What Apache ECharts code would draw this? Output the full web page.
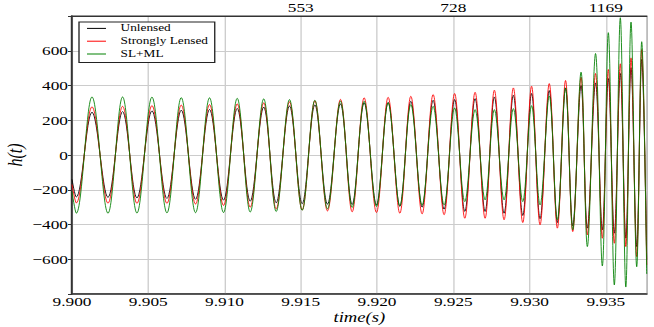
<!DOCTYPE html>
<html><head><meta charset="utf-8">
<script src="https://cdn.jsdelivr.net/npm/echarts@6/dist/echarts.min.js"></script>
<style>
html,body{margin:0;padding:0;background:#fff;}
#wrap{width:654px;height:327px;overflow:hidden;position:relative;}
#c{width:492px;height:327px;transform-origin:0 0;}
</style>
</head><body>
<div id="wrap"><div id="c"></div></div>
<script>
// time (s) of the start point and of each successive trough / peak
const times = [9.900000, 9.900282, 9.901311, 9.902359, 9.903316, 9.904259, 9.905242, 9.906225, 9.907163, 9.908100,
  9.909017, 9.909934, 9.910832, 9.911684, 9.912569, 9.913388, 9.914260, 9.915092, 9.915924, 9.916750,
  9.917602, 9.918368, 9.919155, 9.919961, 9.920727, 9.921494, 9.922215, 9.922955, 9.923676, 9.924397,
  9.925085, 9.925754, 9.926429, 9.927084, 9.927693, 9.928329, 9.928938, 9.929554, 9.930131, 9.930688,
  9.931291, 9.931822, 9.932359, 9.932831, 9.933375, 9.933788, 9.934325, 9.934771, 9.935164, 9.935557,
  9.935950, 9.936311, 9.936652, 9.937025, 9.937353, 9.937680];
const unlensed = [-140,
  -242, 246, -244, 250, -247, 254, -250, 258, -255, 262,
  -260, 268, -266, 276, -275, 282, -280, 288, -283, 294,
  -285, 300, -287, 303, -296, 309, -300, 315, -312, 319,
  -325, 325, -325, 334, -335, 344, -348, 354, -367, 371,
  -389, 386, -408, 400, -421, 415, -431, 440, -450, 469,
  -479, 502, -527, 550, -604];
const stronglyLensed = [-170,
  -276, 277, -277, 280, -278, 284, -278, 287, -282, 290,
  -290, 294, -300, 300, -310, 306, -316, 312, -322, 320,
  -327, 329, -331, 332, -335, 338, -339, 348, -344, 354,
  -364, 361, -364, 373, -373, 386, -389, 396, -402, 411,
  -421, 429, -441, 448, -460, 469, -479, 492, -508, 525,
  -527, 559, -585, 607, -633];
const slml = [-210,
  -335, 334, -335, 334, -334, 333, -333, 330, -332, 329,
  -331, 326, -328, 323, -325, 319, -318, 315, -310, 310,
  -302, 309, -296, 300, -292, 290, -288, 280, -287, 271,
  -268, 261, -258, 261, -258, 267, -268, 284, -287, 340,
  -373, 386, -431, 477, -527, 584, -639, 704, -748, 790,
  -760, 765, -643, 652, -685];
const seriesNames = ['Unlensed', 'Strongly Lensed', 'SL+ML'];
const topTickValues = [9.915, 9.925, 9.935];
const topTickLabels = ['553', '728', '1169'];
const xMin = 9.900, xMax = 9.93768, xStep = 0.005;
const yMin = -800, yMax = 800, yStep = 200;

// the reference figure is horizontally stretched; reproduce by a CSS stretch
const S = 654 / 492;
document.getElementById('c').style.transform = 'scaleX(' + S + ')';
const FF = 'Liberation Serif';

const chart = echarts.init(document.getElementById('c'), null, {renderer: 'svg'});
const toPairs = vals => times.map((t, i) => [t, vals[i]]);
const colors = ['#000000', '#ff0000', '#008000'];
const vals = [unlensed, stronglyLensed, slml];

chart.setOption({
  animation: false,
  backgroundColor: '#ffffff',
  grid: {left: 72 / S, right: 7.3 / S, top: 16, bottom: 33, show: true,
    containLabel: false, outerBoundsMode: 'none',
    borderColor: '#333', borderWidth: 1},
  legend: {
    orient: 'vertical', left: 79 / S, top: 22,
    icon: 'rect', itemWidth: 19 / S, itemHeight: 1, itemGap: 0,
    padding: [0, 5, 2, 6],
    borderColor: '#222', borderWidth: 1, backgroundColor: '#fff',
    textStyle: {fontFamily: FF, fontSize: 10, color: '#000', lineHeight: 12.8, padding: [0, 0, 0, 6]},
    data: seriesNames
  },
  xAxis: [{
    type: 'value', position: 'bottom', min: xMin, max: xMax, interval: xStep,
    axisLine: {show: true, onZero: false, lineStyle: {color: '#333', width: 1.5}},
    axisTick: {show: false},
    axisLabel: {showMaxLabel: false, formatter: v => v.toFixed(3), fontFamily: FF, fontSize: 13, color: '#000', margin: 1},
    splitLine: {show: true, lineStyle: {color: '#cccccc', width: 1}},
    name: 'time(s)', nameLocation: 'middle', nameGap: 16, nameMoveOverlap: false,
    nameTextStyle: {fontFamily: FF, fontStyle: 'italic', fontSize: 14, color: '#000'}
  }, {
    type: 'value', position: 'top', min: xMin, max: xMax, interval: xStep,
    axisLine: {show: true, onZero: false, lineStyle: {color: '#333', width: 1}},
    axisTick: {show: false},
    axisLabel: {showMaxLabel: false, fontFamily: FF, fontSize: 13, color: '#000', margin: 2,
      formatter: v => {
        const k = topTickValues.findIndex(x => Math.abs(x - v) < 1e-7);
        return k >= 0 ? topTickLabels[k] : '';
      }},
    splitLine: {show: false}
  }],
  yAxis: {
    type: 'value', min: yMin, max: yMax, interval: yStep,
    axisLine: {show: true, onZero: false, lineStyle: {color: '#333', width: 1.5}},
    axisTick: {show: true, inside: false, length: 4 / S, lineStyle: {color: '#333'}},
    axisLabel: {fontFamily: FF, fontSize: 13, color: '#000', margin: 4 / S,
      formatter: v => (Math.abs(v) >= 800 ? '' : (v < 0 ? '\u2212' + Math.abs(v) : String(v)))},
    splitLine: {show: true, lineStyle: {color: '#cccccc', width: 1}},
    name: 'h(t)', nameLocation: 'middle', nameGap: 35, nameMoveOverlap: false,
    nameTextStyle: {fontFamily: FF, fontStyle: 'italic', fontSize: 16, color: '#000'}
  },
  series: seriesNames.map((n, i) => ({
    name: n, type: 'line', data: toPairs(vals[i]), xAxisIndex: 0,
    smooth: 0.36, symbol: 'none', clip: true,
    lineStyle: {color: colors[i], width: 0.75}, itemStyle: {color: colors[i]}
  }))
});
</script>
</body></html>
